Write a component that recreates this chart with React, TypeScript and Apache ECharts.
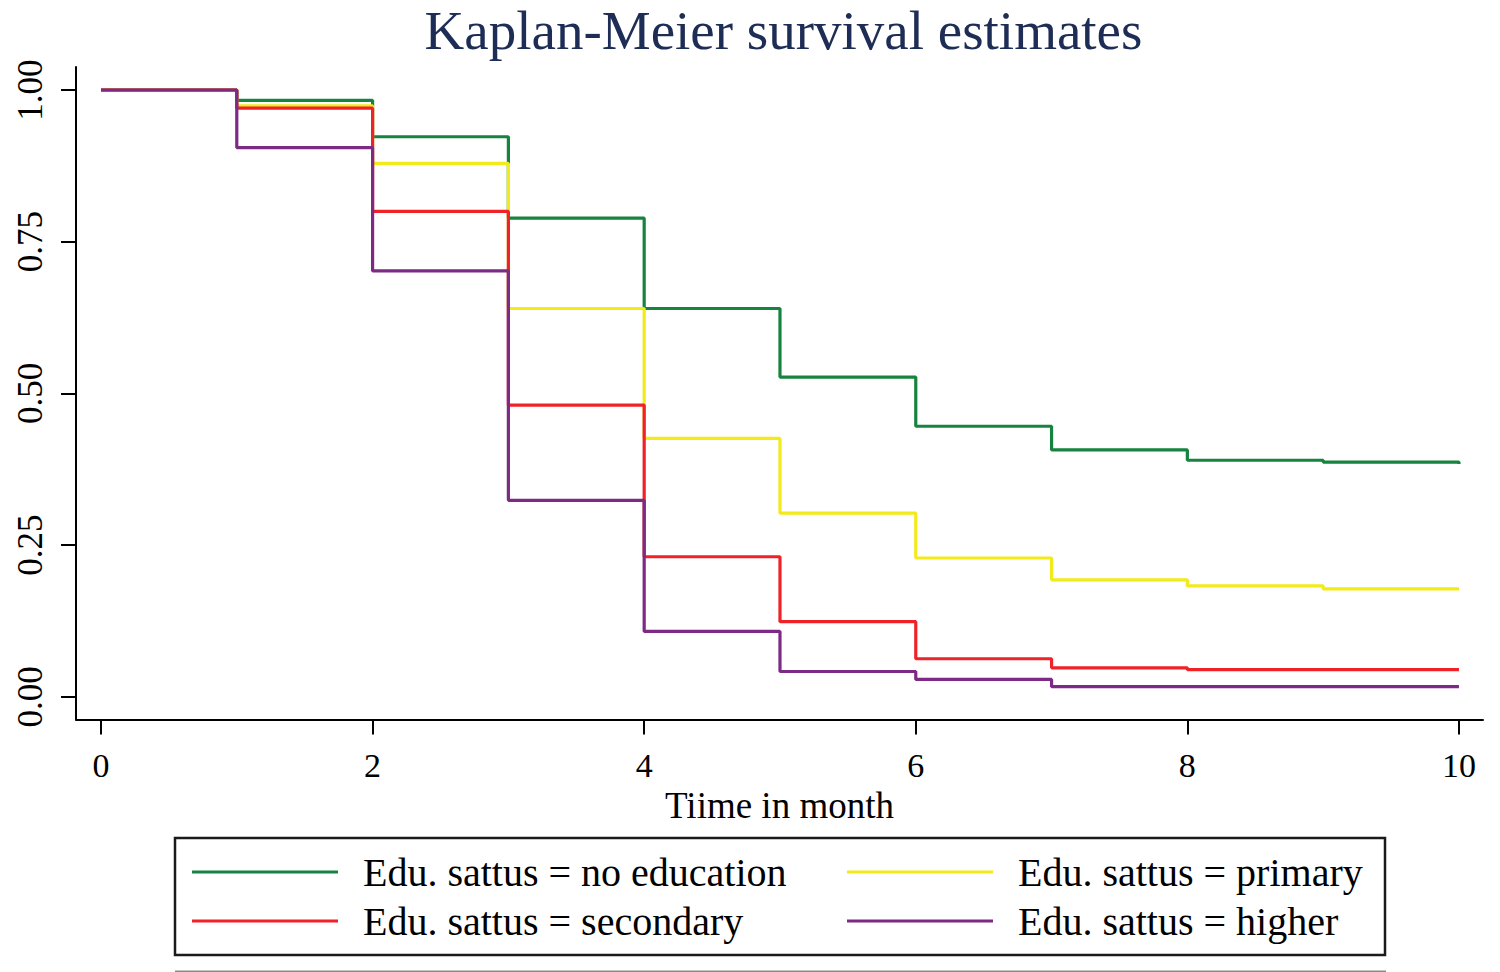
import React, { useEffect, useRef } from "react";
import * as echarts from "echarts";

const months = [0, 1, 2, 3, 4, 5, 6, 7, 8, 9, 10];
const noEducation = [1.0, 0.983, 0.923, 0.789, 0.64, 0.527, 0.446, 0.407, 0.39, 0.387, 0.384];
const primary = [1.0, 0.974, 0.879, 0.64, 0.426, 0.303, 0.229, 0.193, 0.183, 0.178, 0.178];
const secondary = [1.0, 0.97, 0.8, 0.481, 0.231, 0.124, 0.063, 0.048, 0.045, 0.045, 0.045];
const higher = [1.0, 0.905, 0.702, 0.324, 0.108, 0.042, 0.029, 0.017, 0.017, 0.017, 0.017];

const seriesNames = [
  "Edu. sattus = no education",
  "Edu. sattus = primary",
  "Edu. sattus = secondary",
  "Edu. sattus = higher",
];
const seriesValues = [noEducation, primary, secondary, higher];
const seriesColors = ["#16843e", "#f2ea19", "#ee2227", "#7d2a85"];
const xTicks = [0, 2, 4, 6, 8, 10];
const yTicks = [0, 0.25, 0.5, 0.75, 1];

const SERIF = "'Liberation Serif', 'Times New Roman', serif";

export default function App() {
  const ref = useRef<HTMLDivElement>(null);
  useEffect(() => {
    if (!ref.current) return;
    const chart = echarts.init(ref.current, null, { renderer: "svg" });
    const legendPos = [
      { left: 192, top: 872 },
      { left: 847, top: 872 },
      { left: 192, top: 921 },
      { left: 847, top: 921 },
    ];
    chart.setOption({
      animation: false,
      backgroundColor: "#ffffff",
      title: {
        text: "Kaplan-Meier survival estimates",
        left: 783.5,
        textAlign: "center",
        top: 3,
        padding: 0,
        textStyle: {
          fontFamily: SERIF,
          fontSize: 55,
          fontWeight: "normal",
          color: "#1e2d55",
        },
      },
      grid: { left: 76, right: 17, top: 67, bottom: 252.5, containLabel: false },
      xAxis: {
        type: "value",
        min: -0.184,
        max: 10.177,
        name: "Tiime in month",
        nameLocation: "middle",
        nameGap: 53,
        nameTextStyle: { fontFamily: SERIF, fontSize: 37, color: "#000" },
        axisLine: { show: true, onZero: false, lineStyle: { color: "#000", width: 2 } },
        axisTick: {
          show: true,
          customValues: xTicks,
          length: 15,
          lineStyle: { color: "#000", width: 2 },
        },
        axisLabel: {
          customValues: xTicks,
          margin: 29,
          fontFamily: SERIF,
          fontSize: 34,
          color: "#000",
        },
        splitLine: { show: false },
      },
      yAxis: {
        type: "value",
        min: -0.0371,
        max: 1.0379,
        axisLine: { show: true, onZero: false, lineStyle: { color: "#000", width: 2 } },
        axisTick: {
          show: true,
          customValues: yTicks,
          length: 15,
          lineStyle: { color: "#000", width: 2 },
        },
        axisLabel: {
          customValues: yTicks,
          rotate: 90,
          margin: 28,
          fontFamily: SERIF,
          fontSize: 35,
          color: "#000",
          formatter: (v: number) => v.toFixed(2),
        },
        splitLine: { show: false },
      },
      legend: legendPos.map((pos, k) => ({
        data: [{ name: seriesNames[k], icon: "rect" }],
        left: pos.left,
        top: pos.top - 20,
        padding: 0,
        itemWidth: 146,
        itemHeight: 3,
        selectedMode: false,
        textStyle: {
          fontFamily: SERIF,
          fontSize: 40,
          color: "#000",
          padding: [0, 0, 0, 20],
        },
      })),
      graphic: [
        {
          type: "rect",
          shape: { x: 175, y: 838, width: 1210, height: 117 },
          style: { fill: "none", stroke: "#1a1a1a", lineWidth: 2.5 },
          silent: true,
        },
        {
          type: "line",
          shape: { x1: 175, y1: 971.5, x2: 1386, y2: 971.5 },
          style: { stroke: "#8a8a8a", lineWidth: 2 },
          silent: true,
        },
      ],
      series: seriesValues.map((vals, i) => ({
        name: seriesNames[i],
        type: "line",
        step: "end",
        showSymbol: false,
        symbol: "none",
        color: seriesColors[i],
        lineStyle: { color: seriesColors[i], width: 3.2 },
        data: months.map((m, j) => [m, vals[j]]),
        z: 2 + i,
      })),
    });
    return () => chart.dispose();
  }, []);
  return (
    <div
      ref={ref}
      style={{ position: "absolute", left: 0, top: 0, width: 1500, height: 972 }}
    />
  );
}
